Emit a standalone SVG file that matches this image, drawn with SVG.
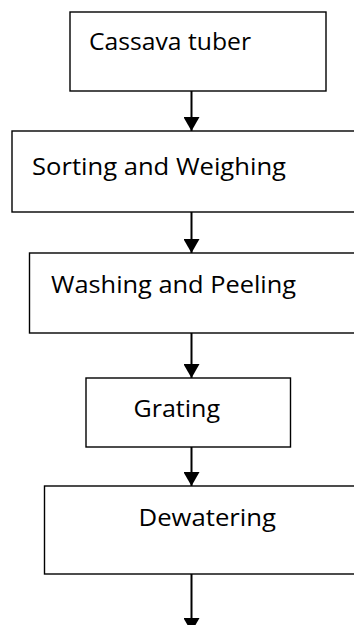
<svg xmlns="http://www.w3.org/2000/svg" width="354" height="625" viewBox="0 0 354 625">
<style>
.box{fill:#fff;stroke:#000;stroke-width:1.4}
.lbl{font-family:"Open Sans","Noto Sans","Liberation Sans",sans-serif;font-size:23px;fill:#000}
.con{stroke:#000;stroke-width:2;fill:none}
</style>
<defs>
<marker id="ah" markerWidth="14" markerHeight="16" refX="14" refY="8" orient="auto" markerUnits="userSpaceOnUse" viewBox="0 0 14 16">
<path d="M0,0 L14,8 L0,16 Z" fill="#000"/>
</marker>
</defs>
<rect width="354" height="625" fill="#fff"/>
<g id="connectors">
<line class="con" x1="191.5" y1="91" x2="191.5" y2="131" marker-end="url(#ah)"/>
<line class="con" x1="191.5" y1="212" x2="191.5" y2="253" marker-end="url(#ah)"/>
<line class="con" x1="191.5" y1="333" x2="191.5" y2="378" marker-end="url(#ah)"/>
<line class="con" x1="191.5" y1="447" x2="191.5" y2="486" marker-end="url(#ah)"/>
<line class="con" x1="191.5" y1="574" x2="191.5" y2="632" marker-end="url(#ah)"/>
</g>
<g id="n1"><rect class="box" x="70" y="12" width="256" height="79"/><text class="lbl" x="89" y="50" textLength="162" lengthAdjust="spacingAndGlyphs">Cassava tuber</text></g>
<g id="n2"><rect class="box" x="12" y="131" width="360" height="81"/><text class="lbl" x="32" y="175" textLength="254" lengthAdjust="spacingAndGlyphs">Sorting and Weighing</text></g>
<g id="n3"><rect class="box" x="29.5" y="253" width="340" height="80"/><text class="lbl" x="51" y="293" textLength="245" lengthAdjust="spacingAndGlyphs">Washing and Peeling</text></g>
<g id="n4"><rect class="box" x="86" y="378" width="204.5" height="69"/><text class="lbl" x="133.5" y="417" textLength="86.5" lengthAdjust="spacingAndGlyphs">Grating</text></g>
<g id="n5"><rect class="box" x="44.5" y="486" width="330" height="88"/><text class="lbl" x="138.5" y="526" textLength="137.5" lengthAdjust="spacingAndGlyphs">Dewatering</text></g>
</svg>
